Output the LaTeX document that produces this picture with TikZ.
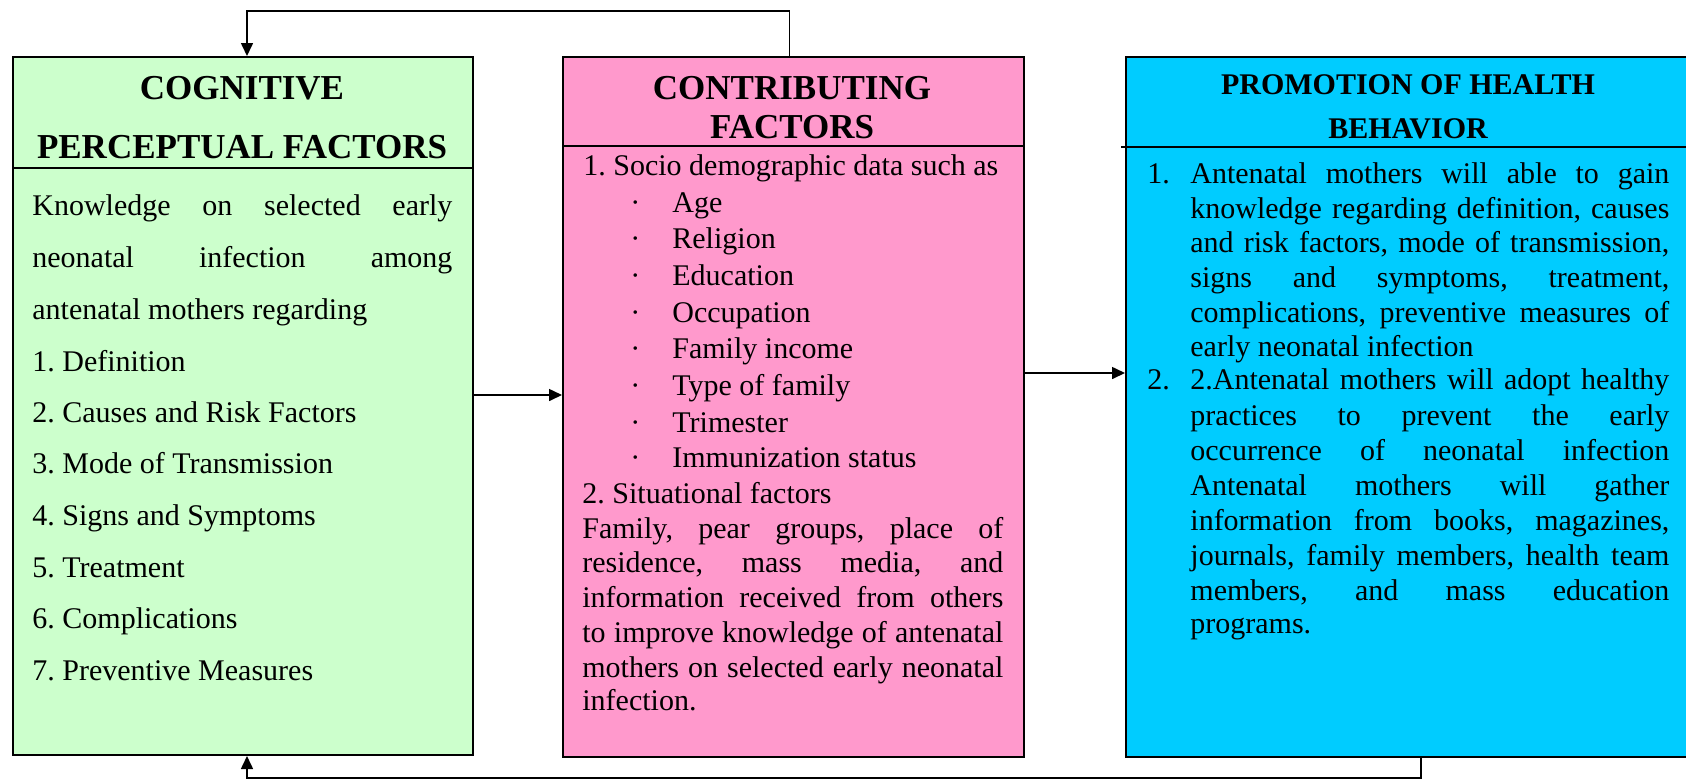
\documentclass[tikz,border=0pt]{standalone}
\usepackage{fontspec}
\setmainfont{Liberation Serif}
\usetikzlibrary{arrows.meta}
\frenchspacing

\definecolor{cogfill}{HTML}{CCFFCC}
\definecolor{contribfill}{HTML}{FF99CC}
\definecolor{promofill}{HTML}{00CCFF}

\tikzset{
  box/.style={draw, line width=1pt, anchor=north west, inner sep=0pt},
  headtext/.style={font=\bfseries\fontsize{17.5}{21}\selectfont, anchor=base, inner sep=0pt},
  bodytext/.style={font=\fontsize{15}{18}\selectfont, anchor=base west, inner sep=0pt},
  conn/.style={line width=0.8pt, -{Triangle[length=6.5pt,width=6pt]}}
}

\begin{document}
\begin{tikzpicture}[x=0.5pt, y=-0.5pt]
\clip (0,0) rectangle (1686,778);

% the three boxes
\node[box, fill=cogfill, minimum width=230pt, minimum height=349pt] (cog) at (12,56) {};
\node[box, fill=contribfill, minimum width=230.5pt, minimum height=350pt] (contrib) at (562,56) {};
\node[box, fill=promofill, minimum width=295pt, minimum height=350pt] (promo) at (1125,56) {};

% header rules
\draw[line width=1pt] (12,168) -- (472,168);
\draw[line width=1pt] (562,146) -- (1023,146);
\draw[line width=1pt] (1121,147) -- (1715,147);

% headings
\node[headtext] (coghead1) at (242,99) {COGNITIVE};
\node[headtext] (coghead2) at (242,158) {PERCEPTUAL FACTORS};
\node[headtext] (contribhead1) at (792,99) {CONTRIBUTING};
\node[headtext] (contribhead2) at (792,138) {FACTORS};
\node[headtext, font=\bfseries\fontsize{15}{18}\selectfont] (promohead1) at (1408,94) {PROMOTION OF HEALTH};
\node[headtext, font=\bfseries\fontsize{15}{18}\selectfont] (promohead2) at (1408,138) {BEHAVIOR};

% cognitive perceptual factors
\foreach \y/\txt [count=\i] in {
	215/{\makebox[210pt][s]{Knowledge on selected early}},
	267/{\makebox[210pt][s]{neonatal infection among}},
	319/{antenatal mothers regarding},
	371/{1. Definition},
	422/{2. Causes and Risk Factors},
	473/{3. Mode of Transmission},
	525/{4. Signs and Symptoms},
	577/{5. Treatment},
	628/{6. Complications},
	680/{7. Preventive Measures}}
\node[bodytext] (cogline\i) at (32,\y) {\txt};

% contributing factors
\node[bodytext] (socio) at (583,175) {1. Socio demographic data such as};
\foreach \y/\txt [count=\i] in {
	212/Age, 248/Religion, 285/Education, 322/Occupation,
	358/Family income, 395/Type of family, 432/Trimester,
	467/Immunization status}
{
\node[bodytext] (dot\i) at (630,\y) {·};
\node[bodytext] (item\i) at (672,\y) {\txt};
}
\node[bodytext] (situ) at (582,503) {2. Situational factors};
\foreach \y/\txt [count=\i] in {
	538/{\makebox[210.5pt][s]{Family, pear groups, place of}},
	572/{\makebox[210.5pt][s]{residence, mass media, and}},
	607/{\makebox[210.5pt][s]{information received from others}},
	642/{\makebox[210.5pt][s]{to improve knowledge of antenatal}},
	677/{\makebox[210.5pt][s]{mothers on selected early neonatal}},
	710/{infection.}}
\node[bodytext] (situline\i) at (582,\y) {\txt};

% promotion of health behavior
\node[bodytext] (num1) at (1147,183) {1.};
\node[bodytext] (num2) at (1147,389) {2.};
\foreach \y/\txt [count=\i] in {
	183/{\makebox[239.5pt][s]{Antenatal mothers will able to gain}},
	218/{\makebox[239.5pt][s]{knowledge regarding definition, causes}},
	252/{\makebox[239.5pt][s]{and risk factors, mode of transmission,}},
	287/{\makebox[239.5pt][s]{signs and symptoms, treatment,}},
	322/{\makebox[239.5pt][s]{complications, preventive measures of}},
	356/{early neonatal infection},
	389/{\makebox[239.5pt][s]{2.Antenatal mothers will adopt healthy}},
	425/{\makebox[239.5pt][s]{practices to prevent the early}},
	460/{\makebox[239.5pt][s]{occurrence of neonatal infection}},
	495/{\makebox[239.5pt][s]{Antenatal mothers will gather}},
	530/{\makebox[239.5pt][s]{information from books, magazines,}},
	565/{\makebox[239.5pt][s]{journals, family members, health team}},
	600/{\makebox[239.5pt][s]{members, and mass education}},
	633/{programs.}}
\node[bodytext] (promoline\i) at (1190,\y) {\txt};

% connectors
\draw[conn] ([yshift=5.5pt]cog.east) -- ([yshift=5.5pt]cog.east -| contrib.west);
\draw[conn] ([yshift=17pt]contrib.east) -- ([yshift=17pt]contrib.east -| promo.west);
\draw[conn] ([xshift=-2pt]contrib.north) -- ++(0,-45) -| ([xshift=2pt]cog.north);
\draw[conn] (promo.south) -- ++(0,20) -| ([xshift=2pt]cog.south);

\end{tikzpicture}
\end{document}
